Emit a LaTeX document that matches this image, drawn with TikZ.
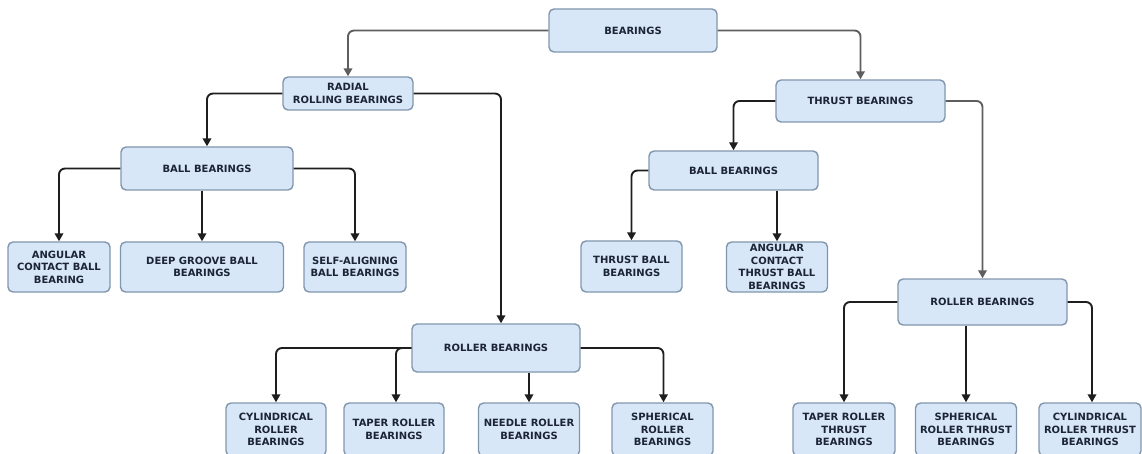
\documentclass[tikz,border=0pt]{standalone}
\usepackage{fontspec}
\setmainfont{DejaVu Sans}
\usetikzlibrary{arrows.meta}
\definecolor{boxfill}{HTML}{D7E7F8}
\definecolor{boxline}{HTML}{8196AD}
\definecolor{txt}{HTML}{1C2536}
\definecolor{lineg}{HTML}{5E5E5E}
\definecolor{lined}{HTML}{1E1E1E}
\tikzset{
  bx/.style={draw=boxline, fill=boxfill, line width=1.4pt, rounded corners=5pt,
    inner sep=1pt, align=center, text=txt,
    font=\fontsize{10}{12.6}\selectfont\bfseries},
  conn/.style={line width=1.9pt, draw=lined, rounded corners=6pt,
    -{Triangle[width=8.5pt,length=8pt]}},
  conng/.style={conn, draw=lineg},
}
\begin{document}
\begin{tikzpicture}[x=1pt,y=-1pt]
\useasboundingbox (0,0) rectangle (1142,454);
% level 0
\node[bx, minimum width=168pt, minimum height=43pt] (root) at (633,30.5) {BEARINGS};
% level 1
\node[bx, minimum width=130pt, minimum height=33pt] (radial) at (348,93.5) {RADIAL\\ROLLING BEARINGS};
\node[bx, minimum width=169pt, minimum height=42pt] (thrust) at (860.5,101) {THRUST BEARINGS};
% level 2
\node[bx, minimum width=172pt, minimum height=43pt] (ballL) at (207,168.5) {BALL BEARINGS};
\node[bx, minimum width=169pt, minimum height=39pt] (ballR) at (733.5,170.5) {BALL BEARINGS};
\node[bx, minimum width=168pt, minimum height=48pt] (rollL) at (496,348) {ROLLER BEARINGS};
\node[bx, minimum width=169pt, minimum height=46pt] (rollR) at (982.5,302) {ROLLER BEARINGS};
% leaves row 1
\node[bx, minimum width=102pt, minimum height=50pt] (acb) at (59,267) {ANGULAR\\CONTACT BALL\\BEARING};
\node[bx, minimum width=163pt, minimum height=50pt] (dgb) at (202,267) {DEEP GROOVE BALL\\BEARINGS};
\node[bx, minimum width=102pt, minimum height=50pt] (sab) at (355,267) {SELF-ALIGNING\\BALL BEARINGS};
\node[bx, minimum width=101pt, minimum height=51pt] (tbb) at (631.5,266.5) {THRUST BALL\\BEARINGS};
\node[bx, minimum width=101pt, minimum height=50pt] (actb) at (777,267) {ANGULAR\\CONTACT\\THRUST BALL\\BEARINGS};
% leaves row 2
\node[bx, minimum width=100pt, minimum height=53pt] (cyl) at (276,429.5) {CYLINDRICAL\\ROLLER\\BEARINGS};
\node[bx, minimum width=100pt, minimum height=53pt] (tap) at (394,429.5) {TAPER ROLLER\\BEARINGS};
\node[bx, minimum width=101pt, minimum height=53pt] (nee) at (529,429.5) {NEEDLE ROLLER\\BEARINGS};
\node[bx, minimum width=101pt, minimum height=53pt] (sph) at (662.5,429.5) {SPHERICAL\\ROLLER\\BEARINGS};
\node[bx, minimum width=102pt, minimum height=53pt] (trt) at (844,429.5) {TAPER ROLLER\\THRUST\\BEARINGS};
\node[bx, minimum width=101pt, minimum height=53pt] (srt) at (966,429.5) {SPHERICAL\\ROLLER THRUST\\BEARINGS};
\node[bx, minimum width=102pt, minimum height=53pt] (crt) at (1090,429.5) {CYLINDRICAL\\ROLLER THRUST\\BEARINGS};
% connectors
\draw[conng] (root.west) -| (radial.north);
\draw[conng] (root.east) -| (thrust.north);
\draw[conn] (radial.west) -| (ballL.north);
\draw[conn] (radial.east) -| ([xshift=5pt]rollL.north);
\draw[conn] (thrust.west) -| (ballR.north);
\draw[conng] (thrust.east) -| (rollR.north);
\draw[conn] (ballL.west) -| (acb.north);
\draw[conn] (dgb.north |- ballL.south) -- (dgb.north);
\draw[conn] (ballL.east) -| (sab.north);
\draw[conn] (ballR.west) -| (tbb.north);
\draw[conn] (actb.north |- ballR.south) -- (actb.north);
\draw[conn] (rollL.west) -| (cyl.north);
\draw[conn] (rollL.west) -| ([xshift=2pt]tap.north);
\draw[conn] (nee.north |- rollL.south) -- (nee.north);
\draw[conn] (rollL.east) -| ([xshift=1pt]sph.north);
\draw[conn] (rollR.west) -| (trt.north);
\draw[conn] (srt.north |- rollR.south) -- (srt.north);
\draw[conn] (rollR.east) -| ([xshift=2pt]crt.north);
\end{tikzpicture}
\end{document}
